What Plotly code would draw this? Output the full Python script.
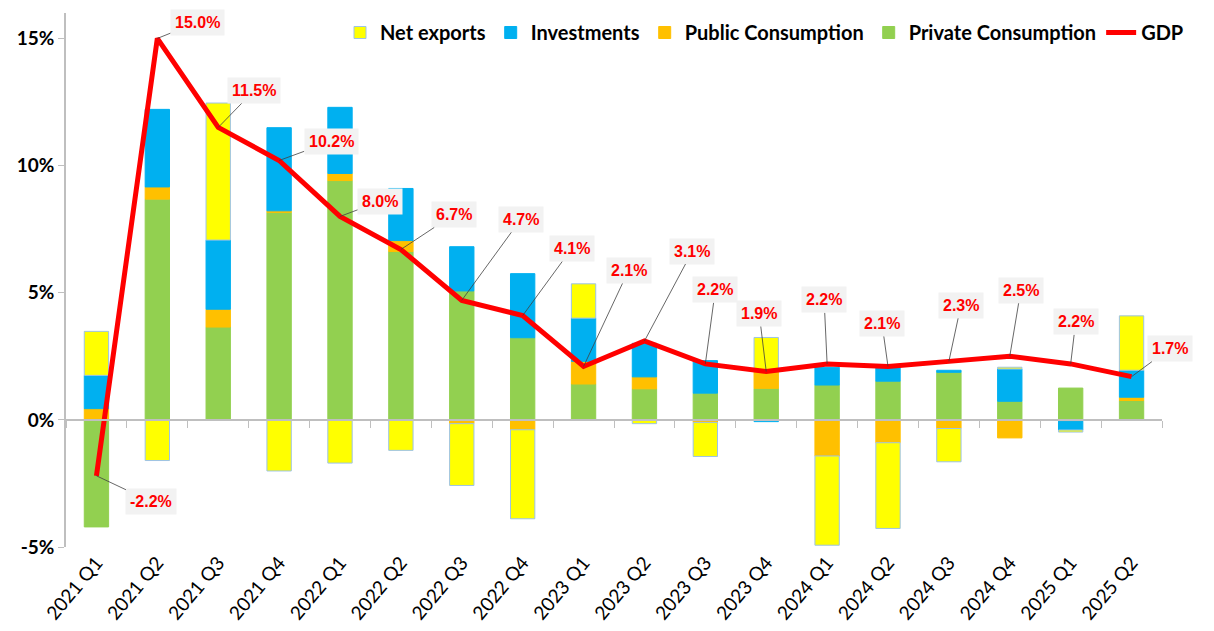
import plotly.graph_objects as go

quarters = ["2021 Q1", "2021 Q2", "2021 Q3", "2021 Q4", "2022 Q1", "2022 Q2",
            "2022 Q3", "2022 Q4", "2023 Q1", "2023 Q2", "2023 Q3", "2023 Q4",
            "2024 Q1", "2024 Q2", "2024 Q3", "2024 Q4", "2025 Q1", "2025 Q2"]

private_cons = [-4.21, 8.68, 3.65, 8.16, 9.41, 6.62, 5.07, 3.23, 1.41, 1.22, 1.05, 1.24,
                1.37, 1.52, 1.87, 0.73, 1.25, 0.76]
public_cons = [0.44, 0.48, 0.70, 0.06, 0.28, 0.43, -0.15, -0.39, 0.89, 0.47, -0.10, 0.71,
               -1.42, -0.90, -0.34, -0.71, -0.05, 0.13]
investments = [1.31, 3.05, 2.72, 3.27, 2.60, 2.05, 1.74, 2.52, 1.70, 1.32, 1.28, -0.07,
               0.70, 0.55, 0.08, 1.27, -0.35, 1.06]
net_exports = [1.73, -1.60, 5.39, -2.01, -1.70, -1.20, -2.43, -3.50, 1.35, -0.15, -1.34, 1.29,
               -3.51, -3.37, -1.31, 0.07, -0.08, 2.14]
gdp = [-2.2, 15.0, 11.5, 10.2, 8.0, 6.7, 4.7, 4.1, 2.1, 3.1, 2.2, 1.9,
       2.2, 2.1, 2.3, 2.5, 2.2, 1.7]

y_ticks = [-5, 0, 5, 10, 15]
y_tick_text = ["-5%", "0%", "5%", "10%", "15%"]

# label offsets (pixels) from each GDP point
label_dx = [55, 40, 36, 52, 40, 53, 59, 49, 45, 48, 10, -7, -3, -6, 12, 11, 5, 38]
label_dy = [26, -16, -37, -19, -15, -35, -81, -67, -96, -90, -74, -58, -64, -43, -56, -66, -42, -28]

fig = go.Figure()

bar_specs = [
    ("Private Consumption", private_cons, "#92D050", 4),
    ("Public Consumption", public_cons, "#FFC000", 3),
    ("Investments", investments, "#00B0F0", 2),
    ("Net exports", net_exports, "#FFFF00", 1),
]
for name, vals, col, rank in bar_specs:
    fig.add_trace(go.Bar(
        x=quarters, y=vals, name=f"<b>{name}</b>", width=0.4, legendrank=rank,
        marker=dict(color=col,
                    line=dict(color="#9DC3E6" if name == "Net exports" else col, width=1)),
    ))

fig.add_trace(go.Scatter(
    x=quarters, y=gdp, name="<b>GDP</b>", mode="lines", legendrank=5,
    line=dict(color="#FF0000", width=5),
))

# helper trace so the zero-line axis with boundary ticks is drawn
fig.add_trace(go.Scatter(
    x=quarters, y=gdp, xaxis="x2", mode="lines", opacity=0,
    showlegend=False, hoverinfo="skip",
))

for q, g, dx, dy in zip(quarters, gdp, label_dx, label_dy):
    fig.add_annotation(
        x=q, y=g, text=f"<b>{g:.1f}%</b>", ax=dx, ay=dy,
        showarrow=True, arrowhead=0, arrowwidth=0.8, arrowcolor="#404040", standoff=0,
        font=dict(family="Liberation Sans", size=16, color="#FF0000"),
        bgcolor="#F2F2F2", borderpad=4,
    )

y_min, y_max = -5, 16
fig.update_layout(
    width=1214, height=631,
    barmode="relative",
    plot_bgcolor="white", paper_bgcolor="white",
    margin=dict(l=58, r=60, t=5, b=92, autoexpand=False),
    font=dict(family="Lato", size=17, color="black"),
    legend=dict(
        orientation="h", x=0.25, xanchor="left", y=1.0, yanchor="top",
        font=dict(family="Lato", size=20, color="black"),
        itemwidth=30, tracegroupgap=0, bgcolor="rgba(0,0,0,0)",
    ),
    xaxis=dict(
        type="category", categoryorder="array", categoryarray=quarters,
        range=[-0.5, 17.5], showline=False, ticks="", showgrid=False,
        tickangle=-50, tickfont=dict(family="Lato", size=19, color="black"),
    ),
    xaxis2=dict(
        type="category", categoryorder="array", categoryarray=quarters,
        range=[-0.5, 17.5], overlaying="x", anchor="free",
        position=(0 - y_min) / (y_max - y_min),
        showline=True, linecolor="#BFBFBF", linewidth=1.5,
        ticks="outside", tickson="boundaries", ticklen=7, tickcolor="#BFBFBF",
        showticklabels=False, showgrid=False,
    ),
    yaxis=dict(
        range=[y_min, y_max], tickvals=y_ticks,
        ticktext=[f"<b>{t}</b>" for t in y_tick_text],
        showline=True, linecolor="#BFBFBF", linewidth=1.5,
        ticks="outside", ticklen=6, tickcolor="#BFBFBF",
        showgrid=False, zeroline=False,
        tickfont=dict(family="Lato", size=19, color="black"),
    ),
)

fig.write_html("out.html")
